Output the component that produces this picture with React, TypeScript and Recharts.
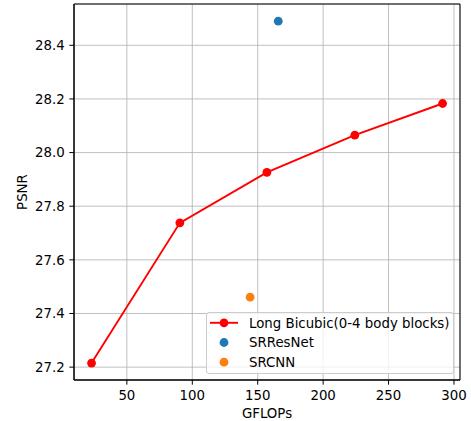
import React from 'react';
import {
  ScatterChart,
  Scatter,
  XAxis,
  YAxis,
  CartesianGrid,
  Legend,
  ReferenceArea,
  Label,
} from 'recharts';

// ---- data ----
const longBicubicGflops = [23, 90.5, 157, 224.2, 291.3];
const longBicubicPsnr = [27.215, 27.738, 27.926, 28.065, 28.183];
const srresnetGflops = [165.7];
const srresnetPsnr = [28.49];
const srcnnGflops = [144.2];
const srcnnPsnr = [27.461];

const xTicks = [50, 100, 150, 200, 250, 300];
const yTicks = [27.2, 27.4, 27.6, 27.8, 28.0, 28.2, 28.4];
const xDomain = [9.6, 304.6];
const yDomain = [27.152, 28.554];

const seriesNames = ['Long Bicubic(0-4 body blocks)', 'SRResNet', 'SRCNN'];
const seriesColors = ['#ff0000', '#1f77b4', '#ff7f0e'];

const xLabel = 'GFLOPs';
const yLabel = 'PSNR';

const toPoints = (xs: number[], ys: number[]) => xs.map((x, i) => ({ x, y: ys[i] }));
const longBicubicData = toPoints(longBicubicGflops, longBicubicPsnr);
const srresnetData = toPoints(srresnetGflops, srresnetPsnr);
const srcnnData = toPoints(srcnnGflops, srcnnPsnr);

const FONT = 'DejaVu Sans';
const FS = 13.33;
const MARKER_R = 4.4;

const dot = (color: string) => (props: any) => (
  <circle cx={props.cx} cy={props.cy} r={MARKER_R} fill={color} stroke="none" />
);

const renderLegend = () => (
  <div
    style={{
      width: 248,
      height: 62,
      boxSizing: 'border-box',
      border: '1px solid #cccccc',
      borderRadius: 3,
      background: 'rgba(255,255,255,0.8)',
    }}
  >
    <svg width={246} height={60} style={{ display: 'block' }}>
      {seriesNames.map((name, i) => {
        const cy = 9.8 + i * 19.7;
        return (
          <g key={name}>
            {i === 0 && (
              <line x1={3} x2={31} y1={cy} y2={cy} stroke={seriesColors[i]} strokeWidth={1.9} />
            )}
            <circle cx={17} cy={cy} r={MARKER_R} fill={seriesColors[i]} />
            <text
              x={42}
              y={cy}
              dy="0.36em"
              fontFamily={FONT}
              fontSize={FS}
              fill="#000"
            >
              {name}
            </text>
          </g>
        );
      })}
    </svg>
  </div>
);

export default function App() {
  return (
    <div style={{ position: 'absolute', left: 0, top: 0, background: '#fff' }}>
      <ScatterChart
        width={471}
        height={421}
        margin={{ top: 4, right: 11, bottom: 0, left: 0 }}
      >
        <CartesianGrid stroke="#b0b0b0" strokeWidth={0.8} />
        <XAxis
          type="number"
          dataKey="x"
          domain={xDomain}
          ticks={xTicks}
          interval={0}
          allowDataOverflow
          height={41}
          stroke="#000"
          tickSize={4.67}
          tickMargin={6.3}
          tick={{ fill: '#000', fontSize: FS, fontFamily: FONT }}
        >
          <Label
            value={xLabel}
            position="insideBottom"
            offset={3}
            style={{ fill: '#000', fontSize: FS, fontFamily: FONT }}
          />
        </XAxis>
        <YAxis
          type="number"
          dataKey="y"
          domain={yDomain}
          ticks={yTicks}
          interval={0}
          allowDataOverflow
          width={74}
          stroke="#000"
          tickSize={4.67}
          tickMargin={4.67}
          tickFormatter={(v: number) => v.toFixed(1)}
          tick={{ fill: '#000', fontSize: FS, fontFamily: FONT }}
        >
          <Label
            value={yLabel}
            position="insideLeft"
            angle={-90}
            offset={22.5}
            style={{ fill: '#000', fontSize: FS, fontFamily: FONT, textAnchor: 'middle' }}
          />
        </YAxis>
        <ReferenceArea
          x1={xDomain[0]}
          x2={xDomain[1]}
          y1={yDomain[0]}
          y2={yDomain[1]}
          fill="none"
          stroke="#000"
          strokeWidth={1}
          ifOverflow="visible"
        />
        <Scatter
          name={seriesNames[0]}
          data={longBicubicData}
          fill={seriesColors[0]}
          line={{ stroke: seriesColors[0], strokeWidth: 1.9 }}
          lineType="joint"
          shape={dot(seriesColors[0])}
          isAnimationActive={false}
        />
        <Scatter
          name={seriesNames[1]}
          data={srresnetData}
          fill={seriesColors[1]}
          shape={dot(seriesColors[1])}
          isAnimationActive={false}
        />
        <Scatter
          name={seriesNames[2]}
          data={srcnnData}
          fill={seriesColors[2]}
          shape={dot(seriesColors[2])}
          isAnimationActive={false}
        />
        <Legend
          layout="vertical"
          align="center"
          verticalAlign="middle"
          content={renderLegend}
          wrapperStyle={{ left: 206, top: 312, width: 248, height: 62 }}
        />
      </ScatterChart>
    </div>
  );
}
